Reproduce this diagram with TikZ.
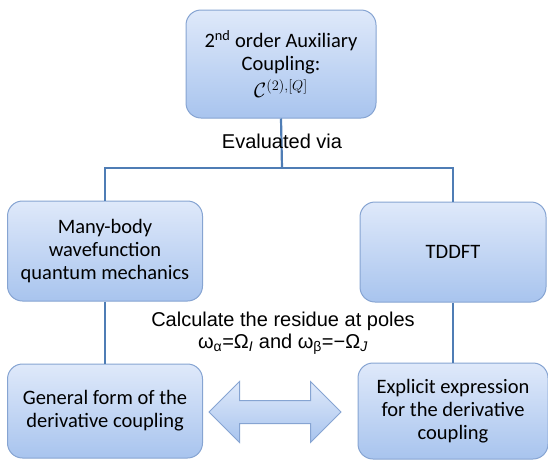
\documentclass[tikz,border=0pt]{standalone}
\usepackage{fontspec}
\setmainfont{Carlito}
\newfontfamily\labelfont{Liberation Sans}
\usetikzlibrary{shapes.arrows}
\definecolor{boxtop}{HTML}{DFE9FA}
\definecolor{boxbottom}{HTML}{A8C4EE}
\definecolor{boxline}{HTML}{86A4D2}
\definecolor{linkline}{HTML}{4F7DB5}
\begin{document}
\begin{tikzpicture}[x=1pt,y=-1pt,
    stepbox/.style={draw=boxline, line width=1pt, rounded corners=15pt,
      top color=boxtop, bottom color=boxbottom, align=center,
      font=\fontsize{20.5}{23}\selectfont, inner sep=3pt},
    link/.style={draw=linkline, line width=2.2pt},
    lbl/.style={font=\labelfont\fontsize{20}{22}\selectfont, align=center}]
        \useasboundingbox (0,0) rectangle (548,461);

        % boxes
        \node[stepbox, minimum width=190pt, minimum height=108pt] (aux) at (281,64)
            {2\textsuperscript{nd} order Auxiliary\\Coupling:\\[4pt]$\mathcal{C}^{(2),[Q]}$};
        \node[stepbox, minimum width=195pt, minimum height=100pt] (manybody) at (105,251)
            {Many-body\\wavefunction\\quantum mechanics};
        \node[stepbox, minimum width=186pt, minimum height=100pt] (tddft) at (453,252)
            {TDDFT};
        \node[stepbox, minimum width=195pt, minimum height=94pt] (general) at (105,411)
            {General form of the\\derivative coupling};
        \node[stepbox, minimum width=190pt, minimum height=96pt] (explicit) at (453,411)
            {Explicit expression\\for the derivative\\coupling};

        % tree lines
        \coordinate (split) at (282,168);
        \draw[link] (aux.south) -- (split);
        \draw[link] (manybody.north) -- (manybody.north |- split) -- (tddft.north |- split) -- (tddft.north);
        \draw[link] (manybody.south) -- (general.north);
        \draw[link] (tddft.south) -- (explicit.north);

        % labels
        \node[lbl] (via) at (282,141) {Evaluated via};
        \node[lbl] (residue) at (283,333)
            {Calculate the residue at poles\\
             ω\textsubscript{α}=Ω\textsubscript{\textit{I}} and ω\textsubscript{β}=−Ω\textsubscript{\textit{J}}};

        \node[double arrow, draw=boxline, line width=1pt, top color=boxtop, bottom color=boxbottom,
            minimum height=132pt, inner xsep=0pt, inner ysep=11pt, double arrow head extend=19pt] (swap) at (275,412) {};

      \end{tikzpicture}
\end{document}
